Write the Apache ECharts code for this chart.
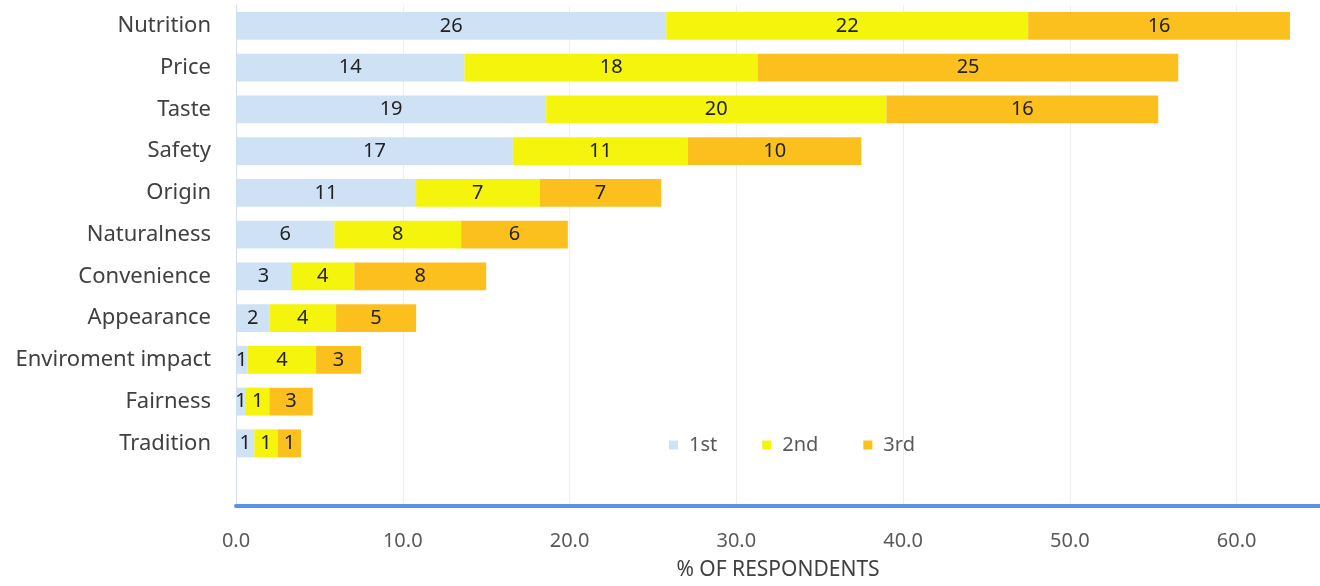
<!DOCTYPE html>
<html>
<head>
<meta charset="utf-8">
<script src="https://cdn.jsdelivr.net/npm/echarts@6/dist/echarts.min.js"></script>
<style>
html,body{margin:0;padding:0;background:#fff;}
#chart{width:1320px;height:586px;}
</style>
</head>
<body>
<div id="chart"></div>
<script>
const categories = ['Nutrition','Price','Taste','Safety','Origin','Naturalness','Convenience','Appearance','Enviroment impact','Fairness','Tradition'];
const seriesNames = ['1st','2nd','3rd'];
const first  = [25.8, 13.7, 18.6, 16.6, 10.8, 5.9, 3.3, 2.0, 0.7, 0.6, 1.1];
const second = [21.7, 17.6, 20.4, 10.5, 7.4, 7.6, 3.8, 4.0, 4.1, 1.4, 1.4];
const third  = [15.7, 25.2, 16.3, 10.4, 7.3, 6.4, 7.9, 4.8, 2.7, 2.6, 1.4];
const xTicks = [0, 10, 20, 30, 40, 50, 60];
const xAxisTitle = '% OF RESPONDENTS';

const colors = ['#cfe2f5', '#f4f40c', '#fcc01e'];
const FONT = 'Noto Sans';
const values = [first, second, third];

const chart = echarts.init(document.getElementById('chart'));
chart.setOption({
  animation: false,
  backgroundColor: '#ffffff',
  textStyle: { fontFamily: FONT },
  grid: { left: 236, right: 0, top: 5, bottom: 75, containLabel: false },
  legend: {
    left: 664, top: 430,
    itemWidth: 9, itemHeight: 9, itemGap: 45,
    icon: 'rect',
    data: seriesNames,
    textStyle: { fontSize: 20, color: '#595959', fontFamily: FONT, padding: [0, 0, 0, 6] }
  },
  xAxis: {
    type: 'value', min: 0, max: 65, interval: 10,
    name: xAxisTitle, nameLocation: 'middle', nameGap: 54,
    nameTextStyle: { fontSize: 21, color: '#404040', fontFamily: FONT },
    axisLine: { show: true, lineStyle: { color: '#5a93e6', width: 4 } },
    axisTick: { show: false },
    axisLabel: {
      fontSize: 20, color: '#595959', margin: 25, showMaxLabel: false,
      formatter: v => (xTicks.indexOf(v) >= 0 ? v.toFixed(1) : '')
    },
    splitLine: { show: true, lineStyle: { color: '#eeeeee', width: 1 } }
  },
  yAxis: {
    type: 'category', inverse: true,
    data: categories.concat(['']),
    axisLine: { show: true, lineStyle: { color: '#d3deea', width: 1 } },
    axisTick: { show: false },
    axisLabel: { fontSize: 22, color: '#404040', margin: 25 },
    splitLine: { show: false }
  },
  series: seriesNames.map((name, i) => ({
    name: name, type: 'bar', stack: 'total',
    barCategoryGap: '33%',
    data: values[i],
    itemStyle: { color: colors[i] },
    label: {
      show: true, position: 'inside',
      fontSize: 20, color: '#222222', fontFamily: FONT,
      formatter: p => String(Math.round(p.value))
    }
  }))
});
</script>
</body>
</html>
